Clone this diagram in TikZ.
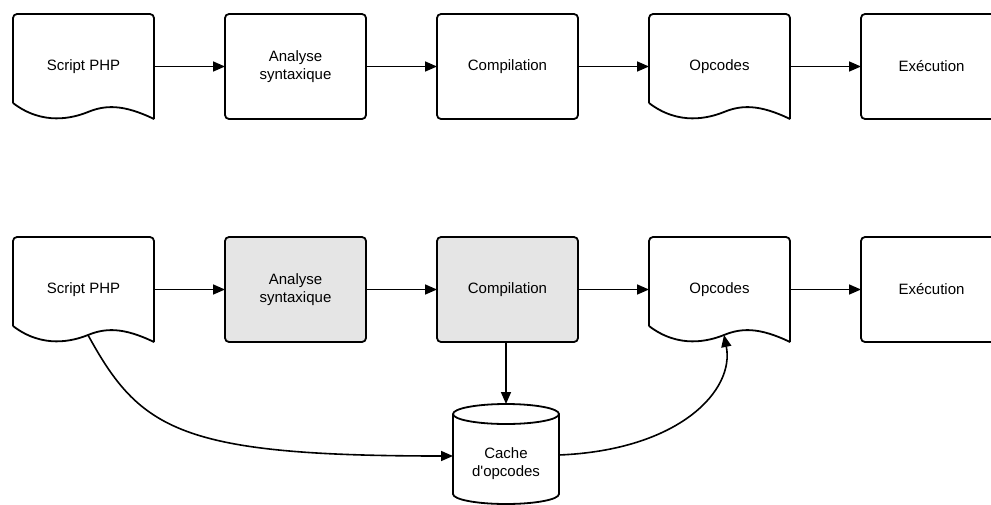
\documentclass[tikz,border=0pt]{standalone}
\usepackage{fontspec}
\setmainfont{Liberation Sans}
\usetikzlibrary{positioning,calc,arrows.meta}

\tikzset{
  stage/.style={draw, line width=1.8pt, rounded corners=4pt, minimum width=141pt,
    minimum height=105pt, inner sep=0pt, outer sep=0pt, align=center,
    font=\fontsize{15}{18}\selectfont},
  doc/.style={stage, draw=none},
  cached/.style={stage, fill=gray!20},
  flow/.style={line width=1.6pt, -{Triangle[length=12pt,width=10pt]}},
  outline/.style={line width=1.8pt, line join=round},
}

\begin{document}
\begin{tikzpicture}[x=1pt,y=-1pt]
  \useasboundingbox (0,0) rectangle (991,504);
  % without the opcode cache
  \node[doc] (src1) at (83.5,66.5) {Script PHP};
  \node[stage, right=71pt of src1] (parse1) {Analyse\\syntaxique};
  \node[stage, right=71pt of parse1] (comp1) {Compilation};
  \node[doc, right=71pt of comp1] (opc1) {Opcodes};
  \node[stage, right=71pt of opc1] (exec1) {Exécution};
  % with the opcode cache
  \node[doc] (src2) at (83.5,289.5) {Script PHP};
  \node[cached, right=71pt of src2] (parse2) {Analyse\\syntaxique};
  \node[cached, right=71pt of parse2] (comp2) {Compilation};
  \node[doc, right=71pt of comp2] (opc2) {Opcodes};
  \node[stage, right=71pt of opc2] (exec2) {Exécution};
  \node[stage, draw=none, minimum width=106pt, minimum height=80pt] (cache) at (506,464) {Cache\\d\textquotesingle opcodes};
  % document outlines
  \foreach \n in {src1,opc1,src2,opc2} {
    \draw[outline, rounded corners=4pt] ($(\n.north west)+(0,89)$) -- (\n.north west)
      -- (\n.north east) -- (\n.south east);
    \draw[outline] (\n.south east) .. controls ($(\n.north west)+(110,90)$) and ($(\n.north west)+(92,91)$)
      .. ($(\n.north west)+(75,98)$) coordinate (\n-wave)
      .. controls ($(\n.north west)+(60,104)$) and ($(\n.north west)+(30,112)$) .. ($(\n.north west)+(0,89)$);
  }
  % cylinder
  \draw[outline] ($(cache.north west)+(0,-10)$) -- ($(cache.south west)+(0,-10)$)
    arc[start angle=180, end angle=360, x radius=53pt, y radius=10pt] -- ($(cache.north east)+(0,-10)$);
  \draw[outline] ($(cache.north)+(0,-10)$) ellipse [x radius=53pt, y radius=10pt];
  \coordinate (cachetop) at ($(cache.north)+(0,-20)$);
  \coordinate (cachein) at ($(cache.west)+(0,-8)$);
  \coordinate (cacheout) at ($(cache.east)+(0,-9)$);
  % arrows
  \draw[flow] (src1) -- (parse1);
  \draw[flow] (parse1) -- (comp1);
  \draw[flow] (comp1) -- (opc1);
  \draw[flow] (opc1) -- (exec1);
  \draw[flow] (src2) -- (parse2);
  \draw[flow] (parse2) -- (comp2);
  \draw[flow] (comp2) -- (opc2);
  \draw[flow] (opc2) -- (exec2);
  \draw[flow] (comp2.south -| cachetop) -- (cachetop);
  \draw[flow] (src2-wave) .. controls +(52,95) and +(-273,0) .. (cachein);
  \draw[flow] (cacheout) .. controls +(121,-5) and +(11,55) .. (opc2-wave);
\end{tikzpicture}
\end{document}
